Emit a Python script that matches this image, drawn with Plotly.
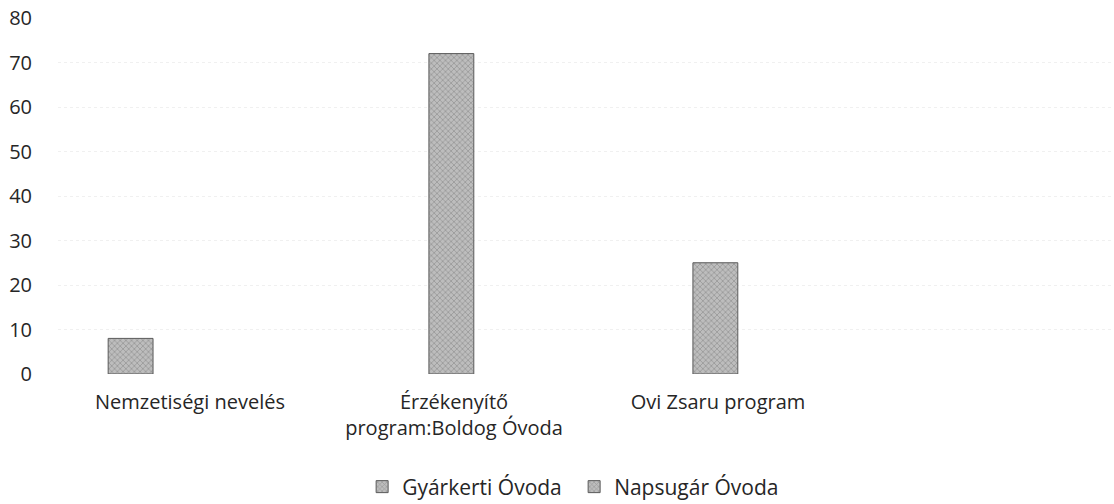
import plotly.graph_objects as go

categories = ["Nemzetiségi nevelés", "Érzékenyítő<br>program:Boldog Óvoda", "Ovi Zsaru program"]
gyarkerti = [8, None, None]
napsugar = [None, 72, 25]
y_ticks = [0, 10, 20, 30, 40, 50, 60, 70, 80]

FONT = "Open Sans"
bar_style = dict(
    color="#a9a9a9",
    line=dict(color="#5a5a5a", width=1),
    pattern=dict(shape="x", fgcolor="#6f6f6f", bgcolor="#bdbdbd", size=4, solidity=0.35),
)

fig = go.Figure()
fig.add_trace(go.Bar(name="Gyárkerti Óvoda", x=categories, y=gyarkerti,
                     width=0.17, offset=-0.31, marker=bar_style))
fig.add_trace(go.Bar(name="Napsugár Óvoda", x=categories, y=napsugar,
                     width=0.17, offset=-0.095, marker=bar_style))

fig.update_layout(
    width=1114, height=504,
    margin=dict(l=58, r=0, t=18, b=0, autoexpand=False),
    paper_bgcolor="white", plot_bgcolor="white",
    font=dict(family=FONT, size=20, color="#262626"),
    barmode="overlay",
    showlegend=True,
    legend=dict(orientation="h", x=0.288, xanchor="left", y=0.035, yanchor="middle",
                font=dict(size=21), itemwidth=30, entrywidth=167,
                entrywidthmode="pixels"),
    xaxis=dict(type="category", categoryorder="array", categoryarray=categories,
               range=[-0.5, 3.5], showgrid=False, zeroline=False, showline=False,
               ticks="outside", ticklen=10, tickcolor="rgba(0,0,0,0)"),
    yaxis=dict(range=[0, 80], tickvals=y_ticks, domain=[0.2675, 1], showgrid=True,
               gridcolor="#f0f0f0", griddash="dot", gridwidth=1,
               zeroline=False, showline=False,
               ticks="outside", ticklen=21, tickcolor="rgba(0,0,0,0)"),
)

fig.write_html("out.html", config={"displayModeBar": False},
               post_script="document.body.style.margin='0';")
